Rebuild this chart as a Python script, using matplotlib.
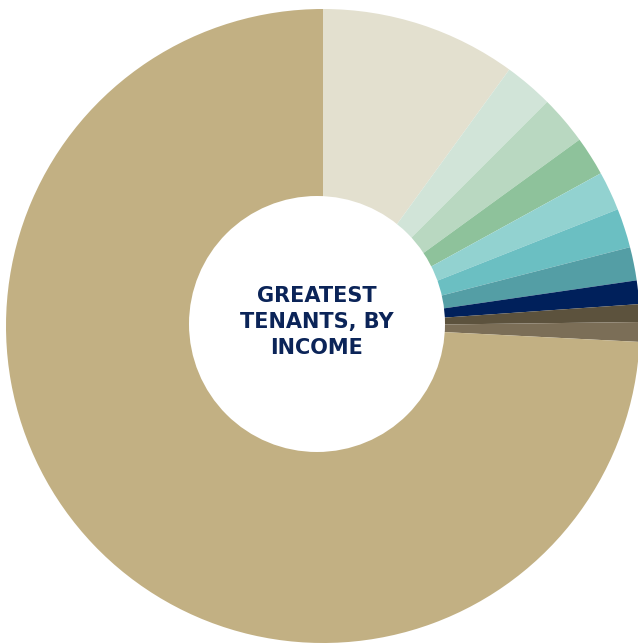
import matplotlib
matplotlib.use("Agg")
import matplotlib.pyplot as plt
from matplotlib.patches import Circle

tenants = ["Tenant 1", "Tenant 2", "Tenant 3", "Tenant 4", "Tenant 5",
           "Tenant 6", "Tenant 7", "Tenant 8", "Tenant 9", "Tenant 10", "Other"]
shares = [10.0, 2.5, 2.5, 2.0, 2.0, 2.0, 1.7, 1.2, 0.9, 1.0, 74.2]
colors = ["#E3E0CF", "#D1E4D8", "#B9D8C1", "#8EC29B", "#92D2D0",
          "#6BBFC2", "#549EA5", "#00205B", "#5C523D", "#7B6E57", "#C2B083"]
title = "GREATEST\nTENANTS, BY\nINCOME"

W, H = 638, 644
fig = plt.figure(figsize=(W / 100, H / 100), dpi=100)
ax = fig.add_axes([0, 0, 1, 1])
cx, cy, R = 323, H - 326, 317
hx, hy, hr = 317, H - 324, 128
ax.pie(shares, colors=colors, startangle=90, counterclock=False,
       center=(cx, cy), radius=R, wedgeprops=dict(linewidth=0))
ax.add_patch(Circle((hx, hy), hr, facecolor="white", edgecolor="none", zorder=5))
ax.set_xlim(0, W)
ax.set_ylim(0, H)
ax.set_aspect("auto")
ax.axis("off")
ax.text(hx, H - 322, title, ha="center", va="center", fontsize=15,
        fontweight="bold", color="#0B2458", family="DejaVu Sans",
        linespacing=1.4, zorder=6)
fig.savefig("out.png", dpi=100)
